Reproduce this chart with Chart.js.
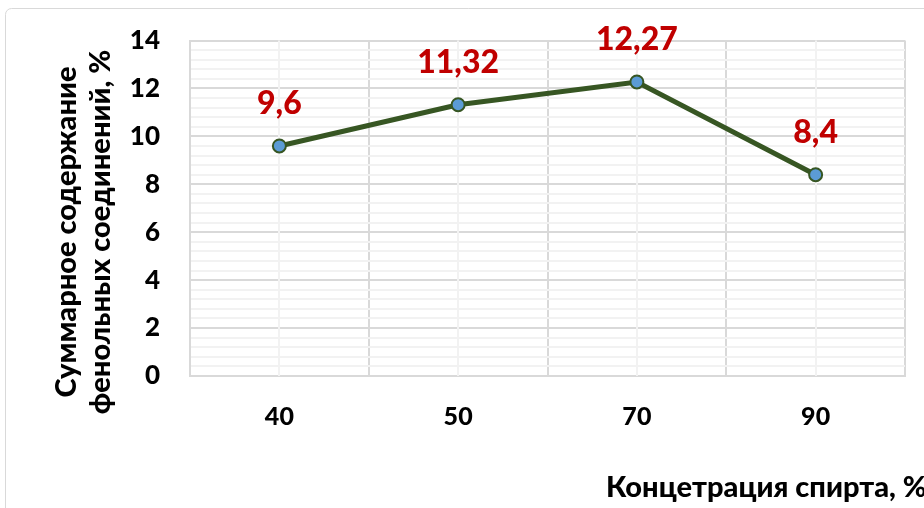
<!DOCTYPE html>
<html>
<head>
<meta charset="utf-8">
<script src="https://cdn.jsdelivr.net/npm/chart.js@4/dist/chart.umd.min.js"></script>
<style>
html,body{margin:0;padding:0;background:#fff;overflow:hidden;}
#wrap{width:924px;height:508px;position:relative;}
</style>
</head>
<body>
<div id="wrap"><canvas id="c" width="924" height="508"></canvas></div>
<script>
const categories = ['40', '50', '70', '90'];
const values = [9.6, 11.32, 12.27, 8.4];
const valueLabels = ['9,6', '11,32', '12,27', '8,4'];
const yTitleLines = ['Суммарное содержание', 'фенольных соединений, %'];
const xTitle = 'Концетрация спирта, %';

const FONT = 'Lato, "Open Sans", sans-serif';
const W = '900';

const extras = {
  id: 'extras',
  beforeDraw(chart) {
    const ctx = chart.ctx;
    ctx.save();
    ctx.fillStyle = '#fff';
    ctx.fillRect(0, 0, chart.width, chart.height);
    ctx.strokeStyle = '#D9D9D9';
    ctx.lineWidth = 1;
    ctx.beginPath();
    ctx.roundRect(5.5, 8.5, 960, 540, 6);
    ctx.stroke();
    ctx.restore();
  },
  beforeDatasetsDraw(chart) {
    const ctx = chart.ctx, x = chart.scales.x, a = chart.chartArea;
    ctx.save();
    ctx.strokeStyle = '#F2F2F2';
    ctx.lineWidth = 2;
    for (let i = 0; i < categories.length; i++) {
      const px = Math.round(x.getPixelForValue(i));
      ctx.beginPath();
      ctx.moveTo(px, a.top);
      ctx.lineTo(px, a.bottom);
      ctx.stroke();
    }
    ctx.restore();
  },
  afterDatasetsDraw(chart) {
    const ctx = chart.ctx;
    const meta = chart.getDatasetMeta(0);
    ctx.save();
    ctx.fillStyle = '#C00000';
    ctx.font = W + ' 32px ' + FONT;
    ctx.textAlign = 'center';
    ctx.textBaseline = 'middle';
    meta.data.forEach((pt, i) => {
      ctx.fillText(valueLabels[i], pt.x, pt.y - 42);
    });
    ctx.fillStyle = '#000';
    ctx.font = W + ' 29px ' + FONT;
    ctx.textAlign = 'left';
    ctx.textBaseline = 'alphabetic';
    ctx.fillText(xTitle, 606, 497);
    ctx.translate(84, 232);
    ctx.rotate(-Math.PI / 2);
    ctx.textAlign = 'center';
    ctx.textBaseline = 'middle';
    ctx.fillText(yTitleLines[0], 0, -17);
    ctx.fillText(yTitleLines[1], 0, 17);
    ctx.restore();
  }
};

new Chart(document.getElementById('c'), {
  type: 'line',
  data: {
    labels: categories,
    datasets: [{
      data: values,
      borderColor: '#375623',
      borderWidth: 5,
      tension: 0,
      pointRadius: 6.5,
      pointHoverRadius: 6.5,
      pointBackgroundColor: '#5B9BD5',
      pointBorderColor: '#375623',
      pointBorderWidth: 2
    }]
  },
  options: {
    responsive: false,
    animation: false,
    events: [],
    layout: { padding: { top: 40.5, right: 19, left: 0, bottom: 0 } },
    plugins: { legend: { display: false }, tooltip: { enabled: false } },
    scales: {
      x: {
        offset: true,
        grid: { offset: true, color: '#D9D9D9', lineWidth: 2, drawTicks: false },
        border: { color: '#D9D9D9', width: 2 },
        ticks: { color: '#000', font: { family: FONT, size: 25, weight: W }, padding: 26, maxRotation: 0 },
        afterFit(s) { s.height = 132; }
      },
      y: {
        min: 0,
        max: 14,
        grid: {
          drawTicks: false,
          lineWidth: 2,
          color(c) {
            const v = c.tick ? c.tick.value : 0;
            return Math.abs(v / 2 - Math.round(v / 2)) < 1e-6 ? '#D9D9D9' : '#F2F2F2';
          }
        },
        border: { color: '#D9D9D9', width: 2 },
        ticks: {
          stepSize: 0.4,
          autoSkip: false,
          color: '#000',
          font: { family: FONT, size: 26, weight: W },
          padding: 30,
          callback(v) {
            return Math.abs(v / 2 - Math.round(v / 2)) < 1e-6 ? String(Math.round(v)) : '';
          }
        },
        afterFit(s) { s.width = 190; s.paddingTop = 0; s.paddingBottom = 0; }
      }
    }
  },
  plugins: [extras]
});
</script>
</body>
</html>
